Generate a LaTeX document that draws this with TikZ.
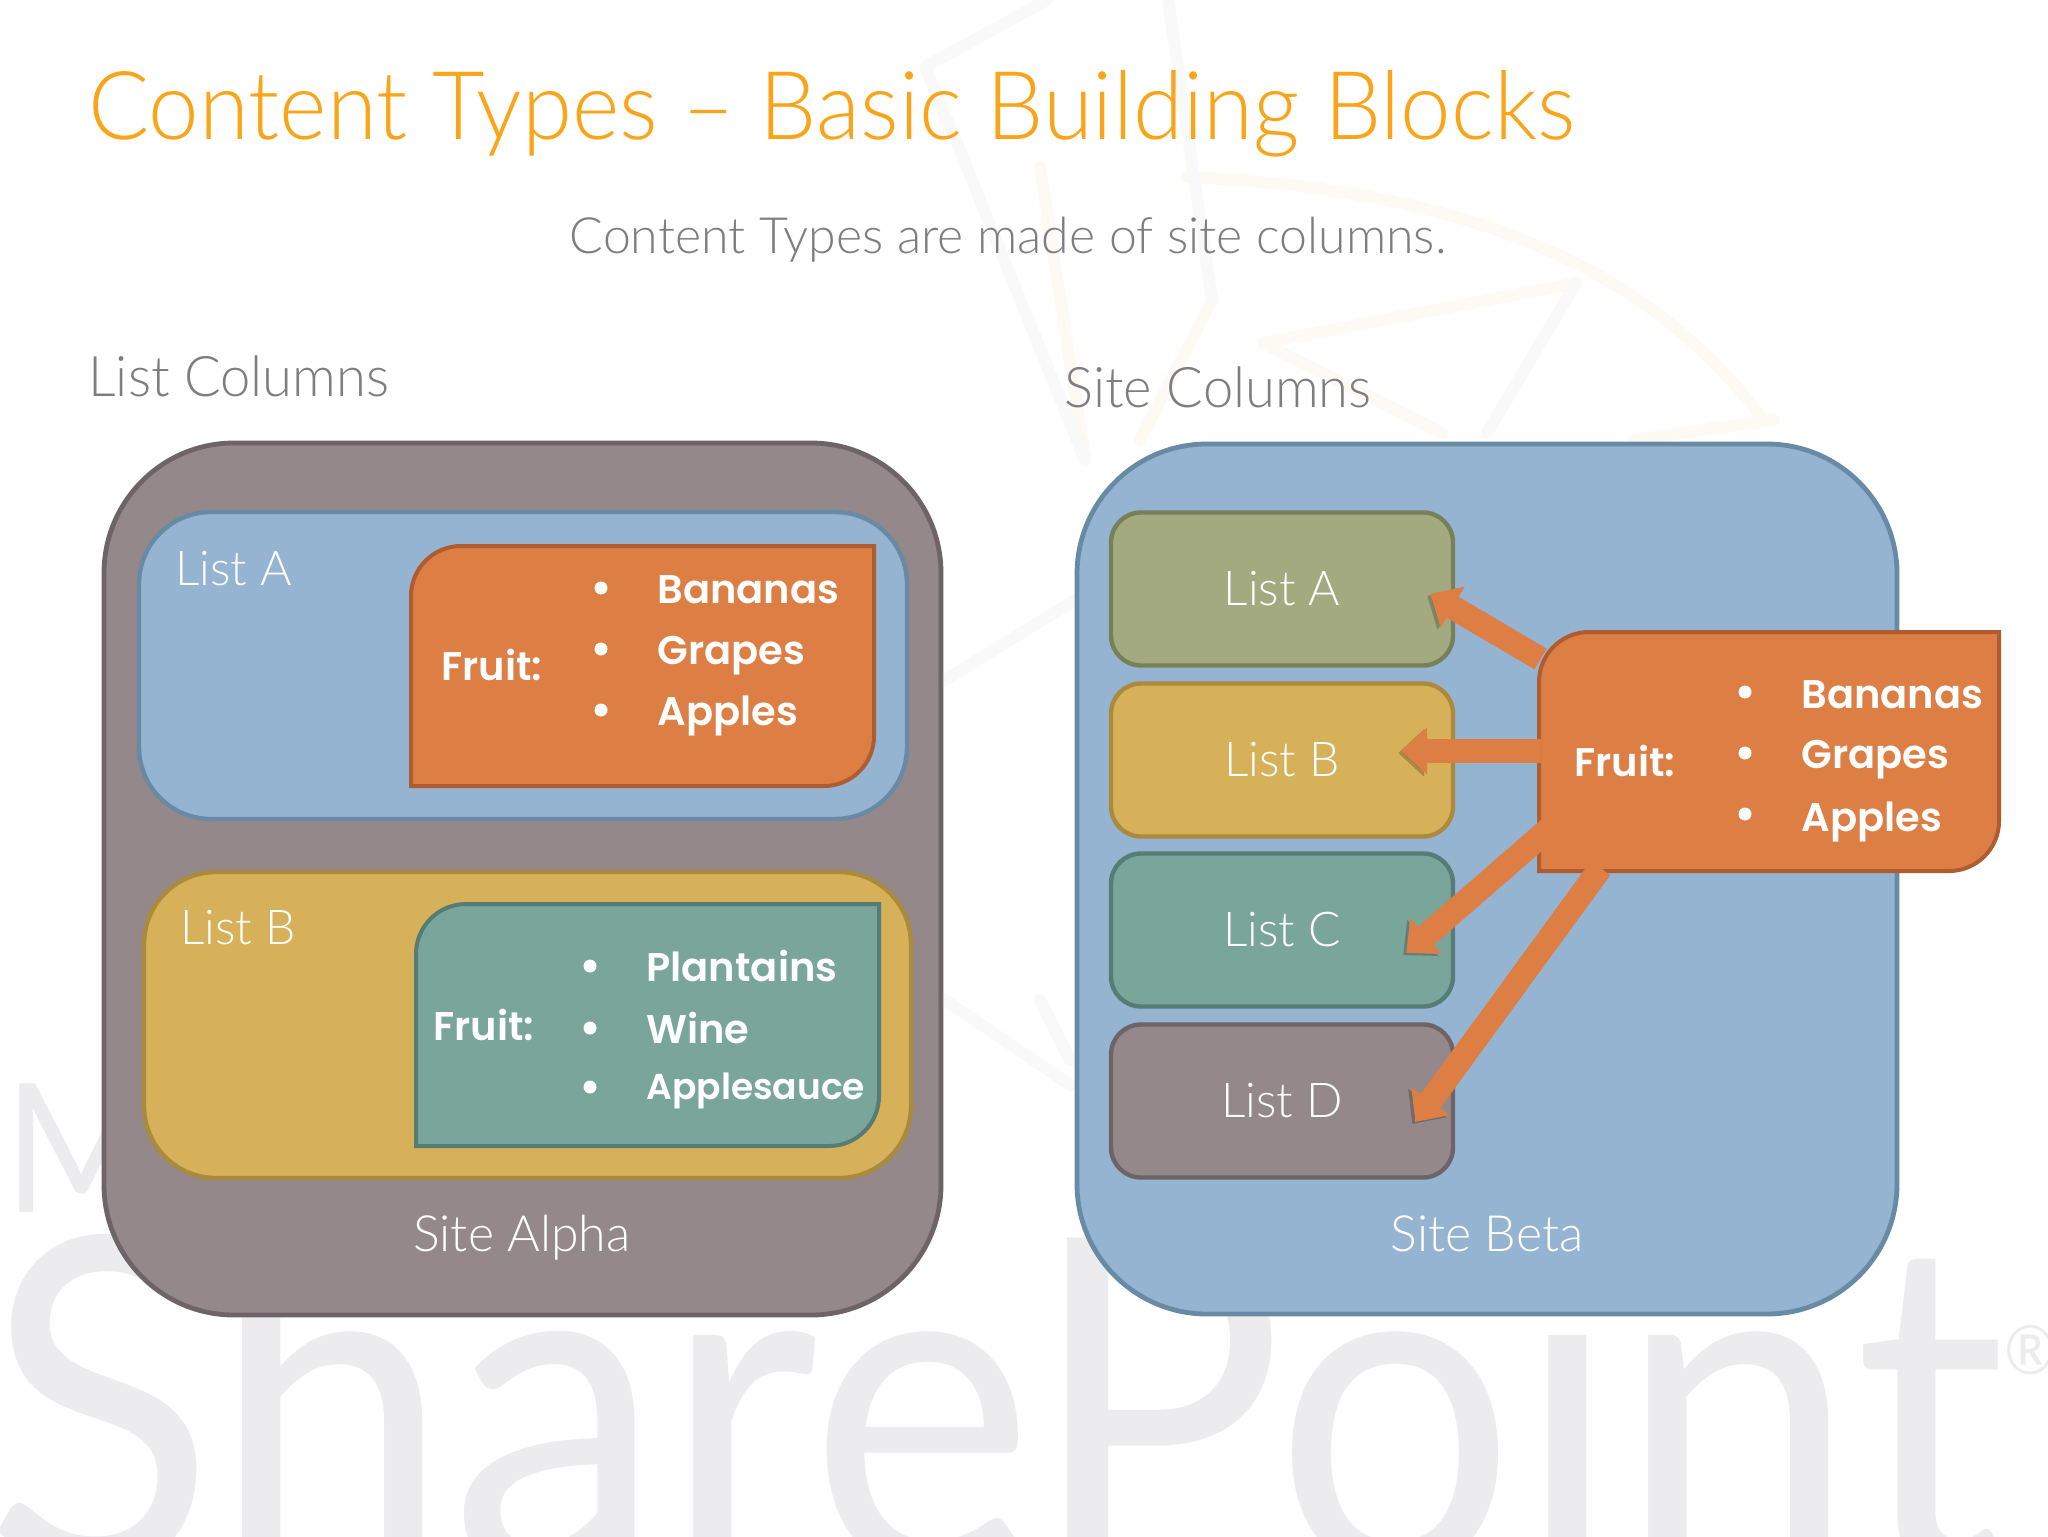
\documentclass[tikz,border=0pt]{standalone}
\usepackage{xcolor}
\usepackage{fontspec}
\setmainfont{Lato}[UprightFont=* Light, BoldFont=* Bold]
\newfontfamily\fruitfont{Poppins}[UprightFont=* SemiBold]
\newfontfamily\titlefont{Lato}[UprightFont=* Light, FakeStretch=0.955]
\newfontfamily\headfont{Lato}[UprightFont=* Light, FakeStretch=0.97]
\newfontfamily\markfont{Lato}[FakeStretch=0.92]
\usetikzlibrary{arrows.meta}

\definecolor{titleorange}{RGB}{250,165,25}
\definecolor{textgrey}{RGB}{125,125,130}
\definecolor{sitegrey}{RGB}{148,136,139}
\definecolor{sitegreyline}{RGB}{110,100,104}
\definecolor{paleblue}{RGB}{148,180,210}
\definecolor{palebluel}{RGB}{105,138,165}
\definecolor{mustard}{RGB}{214,177,90}
\definecolor{mustardl}{RGB}{170,138,60}
\definecolor{cardorange}{RGB}{221,126,68}
\definecolor{cardorangel}{RGB}{175,92,48}
\definecolor{teal}{RGB}{122,165,155}
\definecolor{teall}{RGB}{85,125,118}
\definecolor{olive}{RGB}{163,170,128}
\definecolor{olivel}{RGB}{120,128,90}
\definecolor{watermark}{RGB}{236,236,238}
\definecolor{webwarm}{RGB}{252,250,242}
\definecolor{webcool}{RGB}{249,249,249}

\tikzset{
  sitebox/.style={rounded corners=65, line width=2.4},
  listbox/.style={rounded corners=36, line width=2.2},
  columnbox/.style={draw, line width=2.2, rounded corners=15, minimum width=171, minimum height=76.5,
    font=\fontsize{24}{24}\selectfont, text=white, inner sep=0},
  cardline/.style={line width=2},
  whitetext/.style={font=\fontsize{24}{24}\selectfont, text=white, inner sep=0},
  headtext/.style={font=\headfont\fontsize{28}{28}\selectfont, text=textgrey, inner sep=0, anchor=base west},
  fruittext/.style={font=\fruitfont\fontsize{20}{20}\selectfont, text=white, inner sep=0, anchor=base west},
  marktext/.style={inner sep=0, anchor=base west, text=watermark},
  spot/.style={circle, fill=white, minimum size=6.5, inner sep=0},
  toplist/.style={line width=12, cardorange, -{Triangle[length=13pt,width=23pt]},
    preaction={draw=black, opacity=.22, transform canvas={shift={(-1.5pt,-1pt)}}}},
  webline/.style={line width=6, line cap=round, line join=round},
}

\begin{document}
\begin{tikzpicture}[x=0.5pt, y=-0.5pt]
    \useasboundingbox (0,0) rectangle (2048,1536);

    % Watermark behind everything
    \node[marktext, font=\markfont\fontsize{232}{232}\selectfont] (sharepoint) at (-16,1570) {SharePoint};
    \node[marktext, font=\markfont\fontsize{90}{90}\selectfont] (micro) at (4,1212) {M};
    \node[marktext, font=\markfont\fontsize{34}{34}\selectfont] (regmark) at (2004,1374) {®};

    % Faint web lines
    \draw[webline, webwarm] (1187,177) .. controls (1474,190) and (1650,270) .. (1761,417);
    \draw[webline, webwarm] (1576,283) -- (1263,343) -- (1442,433) (1040,167) -- (1085,460) (1212,300) -- (1140,440);
    \draw[webline, webcool] (1047,0) -- (925,67) -- (964,160) -- (1085,460) (1168,0) -- (1212,300) (1576,283) -- (1487,433);
    \draw[webline, webwarm] (1774,420) -- (1633,440);
    \draw[webline, webcool] (1075,600) -- (945,680) (945,1000) -- (1070,1085) (1040,1000) -- (1070,1060);

    % Headings
    \node[anchor=base west, inner sep=0, text=titleorange, font=\titlefont\fontsize{47.5}{47.5}\selectfont] (title) at (88,140) {Content Types – Basic Building Blocks};
    \node[anchor=base, inner sep=0, text=textgrey, font=\fontsize{25}{25}\selectfont] (subtitle) at (1008,253) {Content Types are made of site columns.};
    \node[headtext] (listcols) at (88,396) {List Columns};
    \node[headtext] (sitecols) at (1064,407) {Site Columns};

    % Site Alpha
    \draw[sitebox, draw=sitegreyline, fill=sitegrey] (104,443) rectangle (941,1315);
    \node[whitetext, anchor=base, font=\fontsize{25}{25}\selectfont] (alpha) at (522,1251) {Site Alpha};

    % List A with orange fruit card
    \draw[listbox, draw=palebluel, fill=paleblue] (139,512) rectangle (907,819);
    \node[whitetext, anchor=base west] (alphaA) at (175,585) {List A};
    \draw[cardline, draw=cardorangel, fill=cardorange] (411,786) [rounded corners=25] -- (411,546) [sharp corners] -- (874,546) [rounded corners=25] -- (874,786) [sharp corners] -- cycle;
    \node[fruittext] (fruitA) at (441,680) {Fruit:};
    \node[spot] (a1) at (601,588) {};
    \node[spot] (a2) at (601,649) {};
    \node[spot] (a3) at (601,710) {};
    \node[fruittext] (a1text) at (657,603) {Bananas};
    \node[fruittext] (a2text) at (657,664) {Grapes};
    \node[fruittext] (a3text) at (657,725) {Apples};

    % List B with teal fruit card
    \draw[listbox, draw=mustardl, fill=mustard] (144,872) rectangle (911,1178);
    \node[whitetext, anchor=base west] (alphaB) at (180,944) {List B};
    \draw[cardline, draw=teall, fill=teal] (416,1146) [rounded corners=25] -- (416,904) [sharp corners] -- (879,904) [rounded corners=25] -- (879,1146) [sharp corners] -- cycle;
    \node[fruittext] (fruitB) at (433,1040) {Fruit:};
    \node[spot] (b1) at (590,966) {};
    \node[spot] (b2) at (590,1028) {};
    \node[spot] (b3) at (590,1087) {};
    \node[fruittext] (b1text) at (646,981) {Plantains};
    \node[fruittext] (b2text) at (646,1043) {Wine};
    \node[fruittext, font=\fruitfont\fontsize{18}{18}\selectfont] (b3text) at (646,1099) {Applesauce};

    % Site Beta
    \draw[sitebox, draw=palebluel, fill=paleblue] (1077,444) rectangle (1897,1314);
    \node[whitetext, anchor=base, font=\fontsize{25}{25}\selectfont] (beta) at (1487,1251) {Site Beta};

    % The four lists
    \node[columnbox, draw=olivel, fill=olive] (listA) at (1282,589) {List A};
    \node[columnbox, draw=mustardl, fill=mustard] (listB) at (1282,760) {List B};
    \node[columnbox, draw=teall, fill=teal] (listC) at (1282,930) {List C};
    \node[columnbox, draw=sitegreyline, fill=sitegrey] (listD) at (1282,1101) {List D};

    % Shared fruit card
    \draw[cardline, draw=cardorangel, fill=cardorange] (1539,871) [rounded corners=25] -- (1539,632) [sharp corners] -- (1999,632) [rounded corners=25] -- (1999,871) [sharp corners] -- cycle;
    \node[inner sep=0, minimum width=230, minimum height=120] (fruit) at (1769,751) {};
    \node[fruittext] (fruitC) at (1574,776) {Fruit:};
    \node[spot] (c1) at (1745,692) {};
    \node[spot] (c2) at (1745,753) {};
    \node[spot] (c3) at (1745,814) {};
    \node[fruittext] (c1text) at (1801,708) {Bananas};
    \node[fruittext] (c2text) at (1801,768) {Grapes};
    \node[fruittext] (c3text) at (1801,831) {Apples};

    % Arrows onto the lists
    \draw[toplist] ([xshift=1,yshift=46]fruit.west) -- ([xshift=-12.5,yshift=-2.5]listA.east);
    \draw[toplist] ([xshift=1]fruit.west) -- ([xshift=-27,yshift=4.5]listB.east);
    \draw[toplist] ([xshift=8,yshift=-36.5]fruit.west) -- ([xshift=-24.5,yshift=-11.5]listC.east);
    \draw[toplist] ([xshift=31,yshift=-58.5]fruit.west) -- ([xshift=-20,yshift=-10.5]listD.east);
\end{tikzpicture}
\end{document}
